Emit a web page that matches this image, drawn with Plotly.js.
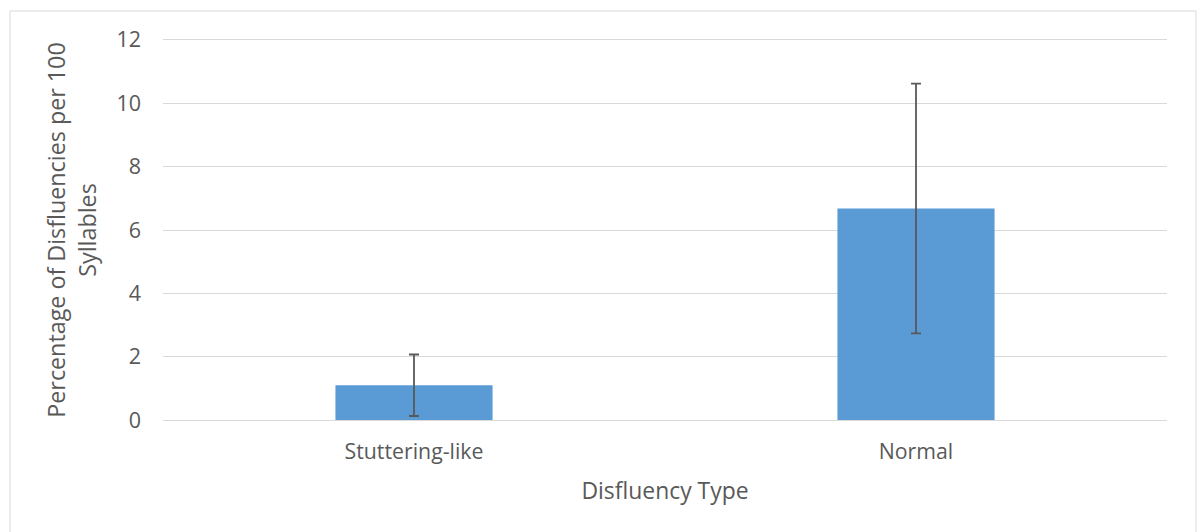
<!DOCTYPE html>
<html>
<head>
<meta charset="utf-8">
<script src="https://cdn.plot.ly/plotly-3.0.1.min.js"></script>
<style>html,body{margin:0;padding:0;background:#fff;}#chart{width:1202px;height:532px;}</style>
</head>
<body>
<div id="chart"></div>
<script>
var categories = ["Stuttering-like", "Normal"];
var meanValues = [1.10, 6.68];
var errorValues = [0.97, 3.94];
var yTickValues = [0, 2, 4, 6, 8, 10, 12];

var FONT = "Open Sans, Liberation Sans, sans-serif";
var TXT = "#595959";

var trace = {
  type: "bar",
  x: categories,
  y: meanValues,
  marker: {color: "#5B9BD5", line: {width: 0}},
  error_y: {type: "data", array: errorValues, visible: true, color: "#595959", thickness: 1.8, width: 5},
  hoverinfo: "none"
};

var layout = {
  width: 1202, height: 532,
  margin: {l: 163, r: 35, t: 38, b: 110},
  paper_bgcolor: "#ffffff",
  plot_bgcolor: "#ffffff",
  bargap: 0.687,
  showlegend: false,
  font: {family: FONT, color: TXT},
  xaxis: {
    type: "category",
    showgrid: false, zeroline: false, showline: false,
    ticks: "", ticklen: 0,
    ticklabelstandoff: 15,
    tickfont: {family: FONT, size: 21.3, color: TXT},
    title: {text: "Disfluency Type", font: {family: FONT, size: 22.9, color: TXT}, standoff: 18}
  },
  yaxis: {
    range: [-0.06, 12.06],
    tickvals: yTickValues,
    ticktext: yTickValues.map(String),
    showgrid: true, gridcolor: "#D9D9D9", gridwidth: 1,
    zeroline: false, showline: false,
    ticks: "", ticklen: 0,
    ticklabelstandoff: 21,
    tickfont: {family: FONT, size: 21.5, color: TXT},
    title: {text: "Percentage of Disfluencies per 100<br>Syllables", font: {family: FONT, size: 23.3, color: TXT}, standoff: 13}
  },
  shapes: [{
    type: "rect", xref: "paper", yref: "paper",
    x0: -0.1524, x1: 1.0289, y0: -0.35, y1: 1.0703,
    line: {color: "#D9D9D9", width: 1}, fillcolor: "rgba(0,0,0,0)", layer: "below"
  }]
};

Plotly.newPlot("chart", [trace], layout, {displayModeBar: false, staticPlot: true});
</script>
</body>
</html>
